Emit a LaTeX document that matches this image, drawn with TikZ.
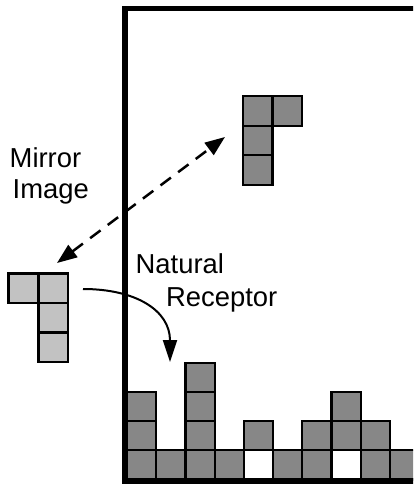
\documentclass[tikz,border=0pt]{standalone}
\usepackage{fontspec}
\setmainfont{Liberation Sans}
\usetikzlibrary{arrows.meta}
\tikzset{
  cellbox/.style={draw=black, line width=2.2bp, fill=black!47},
  mirrorcell/.style={draw=black, line width=2.2bp, fill=black!24},
  holecell/.style={draw=black, line width=2.2bp, fill=white},
  framebox/.style={draw=black, line width=5.5bp},
  label/.style={inner sep=0pt, anchor=base west, font=\fontsize{27.5}{31}\selectfont},
  dasharrow/.style={line width=2.5bp, dash pattern=on 13bp off 9bp, {Triangle[length=20bp,width=15bp]}-{Triangle[length=20bp,width=15bp]}},
  curvearrow/.style={line width=2bp, -{Triangle[length=22bp,width=14bp]}}
}
\begin{document}
\begin{tikzpicture}[x=1bp,y=-1bp]
\useasboundingbox (0,0) rectangle (413,485);
\clip (0,0) rectangle (413,485);
% well cells
\def\cs{29.2}
\foreach \c/\r in {0/0,1/0,2/0,3/0,5/0,6/0,8/0,9/0,0/1,2/1,4/1,6/1,7/1,8/1,0/2,2/2,7/2,2/3}{
  \path[cellbox] ({127+\c*\cs},{479.5-(\r+1)*\cs}) rectangle ({127+(\c+1)*\cs},{479.5-\r*\cs});
}
\foreach \c in {4,7}{
  \path[holecell] ({127+\c*\cs},{479.5-\cs}) rectangle ({127+(\c+1)*\cs},479.5);
}
% falling piece
\path[cellbox] (243,96) rectangle (272.5,125.7);
\path[cellbox] (272.5,96) rectangle (302,125.7);
\path[cellbox] (243,125.7) rectangle (272.5,155.4);
\path[cellbox] (243,155.4) rectangle (272.5,185);
% mirror piece
\path[mirrorcell] (8.5,273.5) rectangle (38.5,303);
\path[mirrorcell] (38.5,273.5) rectangle (68,303);
\path[mirrorcell] (38.5,303) rectangle (68,332.5);
\path[mirrorcell] (38.5,332.5) rectangle (68,362);
% frame
\draw[framebox] (430,8.5) -- (125,8.5) -- (125,481) -- (430,481);
% labels
\node[label] (mirror) at (9.5,167.3) {Mirror};
\node[label] (image) at (12.5,198.3) {Image};
\node[label] (natural) at (135.5,273.3) {Natural};
\node[label] (receptor) at (166,306.7) {Receptor};
% arrows
\coordinate (dA) at (57,263);
\coordinate (dB) at (225,137);
\draw[dasharrow] (dA) -- (dB);
\coordinate (cA) at (83,289);
\coordinate (cB) at (170,362);
\draw[curvearrow] (cA) .. controls (135,289) and (170,310) .. (cB);
\end{tikzpicture}
\end{document}
